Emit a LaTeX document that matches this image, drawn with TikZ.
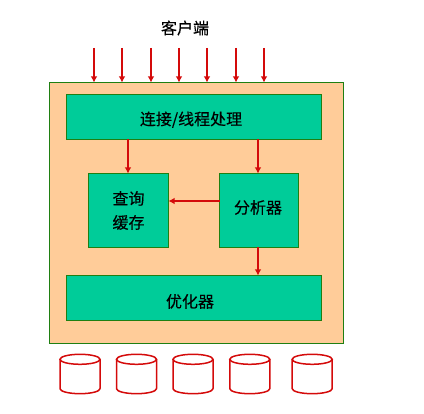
\documentclass[tikz,border=0pt]{standalone}
\usepackage{fontspec}
\setmainfont[FakeBold=0.35]{Noto Sans CJK SC}
\usetikzlibrary{arrows.meta,calc}
\definecolor{shell}{HTML}{FFCC99}
\definecolor{boxgreen}{HTML}{00CC99}
\definecolor{edgegreen}{HTML}{1F7F12}
\definecolor{flowred}{HTML}{D40A0A}
\tikzset{
    box/.style={draw=edgegreen, fill=boxgreen, line width=1pt, inner sep=0pt, outer sep=0pt, font=\fontsize{16pt}{24pt}\selectfont, align=center},
    flow/.style={-{Latex[length=6pt,width=6.5pt]}, draw=flowred, line width=2pt},
    dbcan/.pic={
        \draw[draw=flowred, line width=1.5pt, line join=round] (-20,-14.7) -- (-20,14.7) arc[start angle=180, end angle=360, x radius=20pt, y radius=5pt] -- (20,-14.7);
        \draw[draw=flowred, line width=1.5pt] (0,-14.7) ellipse[x radius=20pt, y radius=5pt];
    }
}
\begin{document}
\begin{tikzpicture}[x=1pt,y=-1pt]
    \useasboundingbox (0,0) rectangle (424,414);

    \node[font=\fontsize{16pt}{20pt}\selectfont] (client) at (185,28) {客户端};

    \node[draw=edgegreen, fill=shell, line width=1pt, minimum width=294pt, minimum height=261pt, inner sep=0pt, outer sep=0pt] (server) at (196.5,213) {};
    \node[box, minimum width=255pt, minimum height=45pt, text height=16pt, text depth=0pt] (conn) at (194,117) {连接/线程处理\hspace*{6pt}};
    \node[box, minimum width=80pt, minimum height=74pt] (cache) at (128.5,210.5) {查询\\缓存};
    \node[box, minimum width=79pt, minimum height=74pt, text height=6pt, text depth=0pt] (parser) at (259,210.5) {分析器\hspace*{2pt}};
    \node[box, minimum width=255pt, minimum height=45pt, text height=19pt, text depth=0pt] (optimizer) at (194,298) {优化器\hspace*{8pt}};

    % client requests
    \foreach \i/\x in {1/94,2/122,3/151,4/179,5/207,6/236,7/264} {
        \coordinate (req\i) at (\x,48);
        \draw[flow] (req\i) -- (req\i |- server.north);
    }

    \draw[flow] ([xshift=-.5pt]conn.south -| cache.north) -- ([xshift=-.5pt]cache.north);
    \draw[flow] ([xshift=-1pt]conn.south -| parser.north) -- ([xshift=-1pt]parser.north);
    \draw[flow] ([yshift=9.5pt]parser.west) -- ([yshift=9.5pt]cache.east);
    \draw[flow] ([xshift=-1pt]parser.south) -- ([xshift=-1pt]parser.south |- optimizer.north);

    % storage
    \foreach \i/\x in {1/80,2/136.5,3/193,4/249.8,5/312.2} {
        \pic (db\i) at (\x,374) {dbcan};
    }
\end{tikzpicture}
\end{document}
